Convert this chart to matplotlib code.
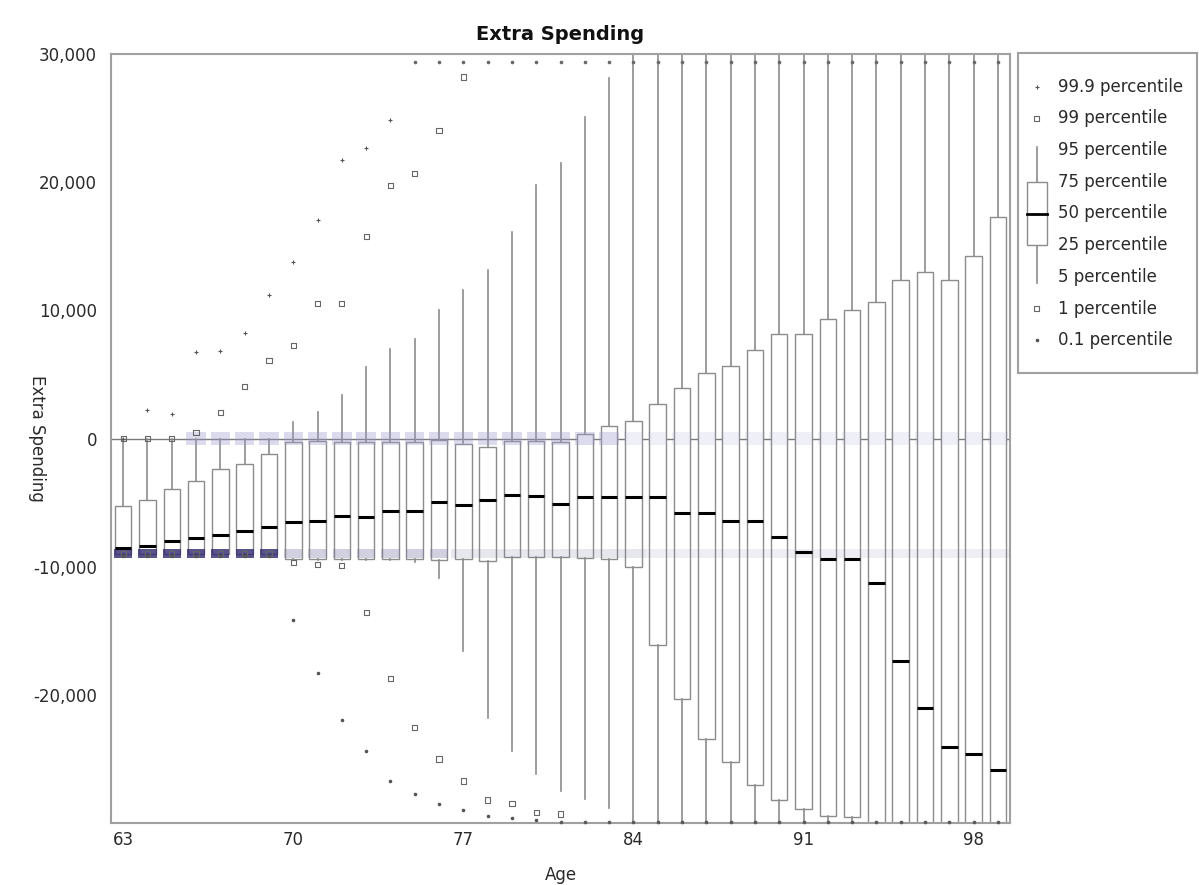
import matplotlib.pyplot as plt
import numpy as np

# ages on the x axis
ages = list(range(63, 100))

# percentiles (values past the frame sit on its edge)
p999 = [0, 2190, 1950, 6740, 6820, 8230, 11170, 13780, 17030, 21720, 22660, 24840] + [29400] * 25
p99 = [0, 0, 0, 500, 2060, 4060, 6090, 7270, 10520, 10520, 15780, 19770, 20700,
       24060, 28200] + [29400] * 22
p95 = [0, 0, 0, 0, 0, 0, 0, 1280, 2060, 3360, 5570, 7010, 7790, 10000, 11560,
       13125, 16100, 19770, 21500, 25100, 28100] + [30000] * 16
p75 = [-5300, -4790, -3930, -3280, -2370, -1980, -1200, -290, -230, -290, -290,
       -300, -290, -100, -420, -625, -160, -160, -290, 360, 940, 1400, 2660, 3960,
       5100, 5625, 6875, 8180, 8180, 9350, 10000, 10650, 12400, 13000, 12400,
       14220, 17290]
p50 = [-8570, -8360, -7970, -7760, -7500, -7190, -6880, -6480, -6400, -6020, -6100,
       -5620, -5620, -4920, -5160, -4790, -4375, -4450, -5100, -4530, -4530, -4580,
       -4580, -5810, -5810, -6460, -6400, -7660, -8880, -9400, -9400, -11300,
       -17340, -20990, -24060, -24640, -25830]
p25 = [-8980] * 7 + [-9400, -9400, -9400, -9400, -9400, -9400, -9450, -9400, -9530,
       -9220, -9220, -9270, -9320, -9400, -10000, -16100, -20290, -23460, -25230,
       -27030, -28230, -28930, -29450, -29530] + [-30000] * 6
p5 = [-9150] * 7 + [-9500, -9500, -9500, -9500, -9500, -9600, -10900, -16560,
      -21770, -24370, -26200, -27500, -28100, -28800] + [-30000] * 16
p1 = [-9000] * 7 + [-9700, -9800, -9900, -13570, -18750, -22550, -25000, -26720,
      -28200, -28500, -29200, -29300] + [-29950] * 18
p01 = [-9200] * 7 + [-14140, -18260, -21980, -24375, -26720, -27730, -28500,
       -29000, -29450, -29600, -29800] + [-29950] * 19

# how dense the point clouds look around 0 and the lower floor
zero_alpha = [0.0] * 3 + [0.35] * 18 + [0.15] * 16
floor_alpha = [0.8] * 7 + [0.35] * 7 + [0.18] * 8 + [0.12] * 15

labels = ["99.9 percentile", "99 percentile", "95 percentile", "75 percentile",
          "50 percentile", "25 percentile", "5 percentile", "1 percentile",
          "0.1 percentile"]

grey = "#8c8c8c"
txt = "#2a2a2a"

fig = plt.figure(figsize=(11.99, 8.85), dpi=100)
ax = fig.add_axes([0.0926, 0.070, 0.7498, 0.869])

ax.axhline(0, color="#7a7a7a", lw=1, zorder=1)

stats = []
for i, a in enumerate(ages):
    stats.append(dict(med=p50[i], q1=p25[i], q3=p75[i], whislo=p5[i],
                      whishi=p95[i], fliers=[], label=str(a)))
ax.bxp(stats, positions=ages, widths=0.68, patch_artist=True, showcaps=False,
       boxprops=dict(facecolor="white", edgecolor=grey, lw=1.0),
       whiskerprops=dict(color=grey, lw=1.2),
       medianprops=dict(color="black", lw=2.2, zorder=5))

# density shading
lav = np.array([0.6, 0.6, 0.8])
navy = np.array([0.18, 0.16, 0.43])
zc = [tuple(lav) + (al,) for al in zero_alpha]
fc = [tuple(navy if i < 7 else lav * 0.8) + (al,) for i, al in enumerate(floor_alpha)]
fw = [0.75 if a < 77 else 1.0 for a in ages]
ax.bar(ages, 1000, bottom=-500, width=0.8, color=zc, zorder=3)
ax.bar(ages, 700, bottom=-9300, width=fw, color=fc, zorder=3)

ag = np.array(ages)
hi = np.array(p999)
sq_hi = np.array(p99)
sq_lo = np.array(p1)
lo = np.array(p01)
edge_hi = hi >= 29400
edge_lo = lo <= -29900

ax.scatter(ag[~edge_hi], hi[~edge_hi], marker="+", s=10, color="#555555", lw=0.8, zorder=6)
ax.scatter(ag[sq_hi < 29400], sq_hi[sq_hi < 29400], marker="s", s=14, facecolor="none",
           edgecolor="#666666", lw=0.8, zorder=6)
ax.scatter(ag[sq_lo > -29900], sq_lo[sq_lo > -29900], marker="s", s=14, facecolor="none",
           edgecolor="#666666", lw=0.8, zorder=6)
ax.scatter(ag[~edge_lo], lo[~edge_lo], marker=".", s=10, color="#555555", zorder=6)
# points that fall outside the frame are piled on its edge
ax.scatter(ag[edge_hi], hi[edge_hi], marker="o", s=7, color="#6a6a6a", lw=0, zorder=6, clip_on=False)
ax.scatter(ag[edge_lo], lo[edge_lo], marker="o", s=7, color="#5a5a5a", lw=0, zorder=6, clip_on=False)

ax.set_xlim(62.5, 99.5)
ax.set_ylim(-30000, 30000)
ax.set_xticks([63, 70, 77, 84, 91, 98])
ax.set_xticklabels(["63", "70", "77", "84", "91", "98"])
ax.set_yticks([30000, 20000, 10000, 0, -10000, -20000])
ax.set_yticklabels(["30,000", "20,000", "10,000", "0", "-10,000", "-20,000"])
ax.tick_params(length=0, labelsize=12, colors=txt)
ax.tick_params(axis="y", pad=10)
ax.tick_params(axis="x", pad=6)
for s in ax.spines.values():
    s.set_color("#a0a0a0")
    s.set_linewidth(1.5)

ax.set_title("Extra Spending", fontsize=14, fontweight="bold", pad=10, color="#111111")
ax.set_xlabel("Age", fontsize=12, labelpad=12, color=txt)
ax.set_ylabel("Extra Spending", fontsize=12, rotation=270, color=txt)
ax.yaxis.set_label_coords(-0.092, 0.5)

# legend key drawn by hand
lg = fig.add_axes([1018 / 1199, 1 - 373 / 885, 179 / 1199, 320 / 885])
lg.set_xlim(0, 179)
lg.set_ylim(320, 0)
lg.set_xticks([])
lg.set_yticks([])
for s in lg.spines.values():
    s.set_color("#a0a0a0")
    s.set_linewidth(1.5)
rows = 33.7 + 31.7 * np.arange(len(labels))
gx = 18.7
for r, t in zip(rows, labels):
    lg.text(39.7, r, t, fontsize=12, va="center", ha="left", color=txt)
lg.plot([gx, gx], [rows[2] - 3, rows[6] + 6], color=grey, lw=1.2)
lg.add_patch(plt.Rectangle((gx - 10, rows[3]), 20, rows[5] - rows[3],
                           facecolor="white", edgecolor=grey, lw=1.0, zorder=3))
lg.plot([gx - 10, gx + 10], [rows[4], rows[4]], color="black", lw=2, zorder=4)
lg.scatter([gx], [rows[0]], marker="+", s=10, color="#555555", lw=0.8)
lg.scatter([gx, gx], [rows[1], rows[7]], marker="s", s=14, facecolor="none",
           edgecolor="#666666", lw=0.8)
lg.scatter([gx], [rows[8]], marker=".", s=10, color="#555555")

fig.savefig("out.png", dpi=100)
